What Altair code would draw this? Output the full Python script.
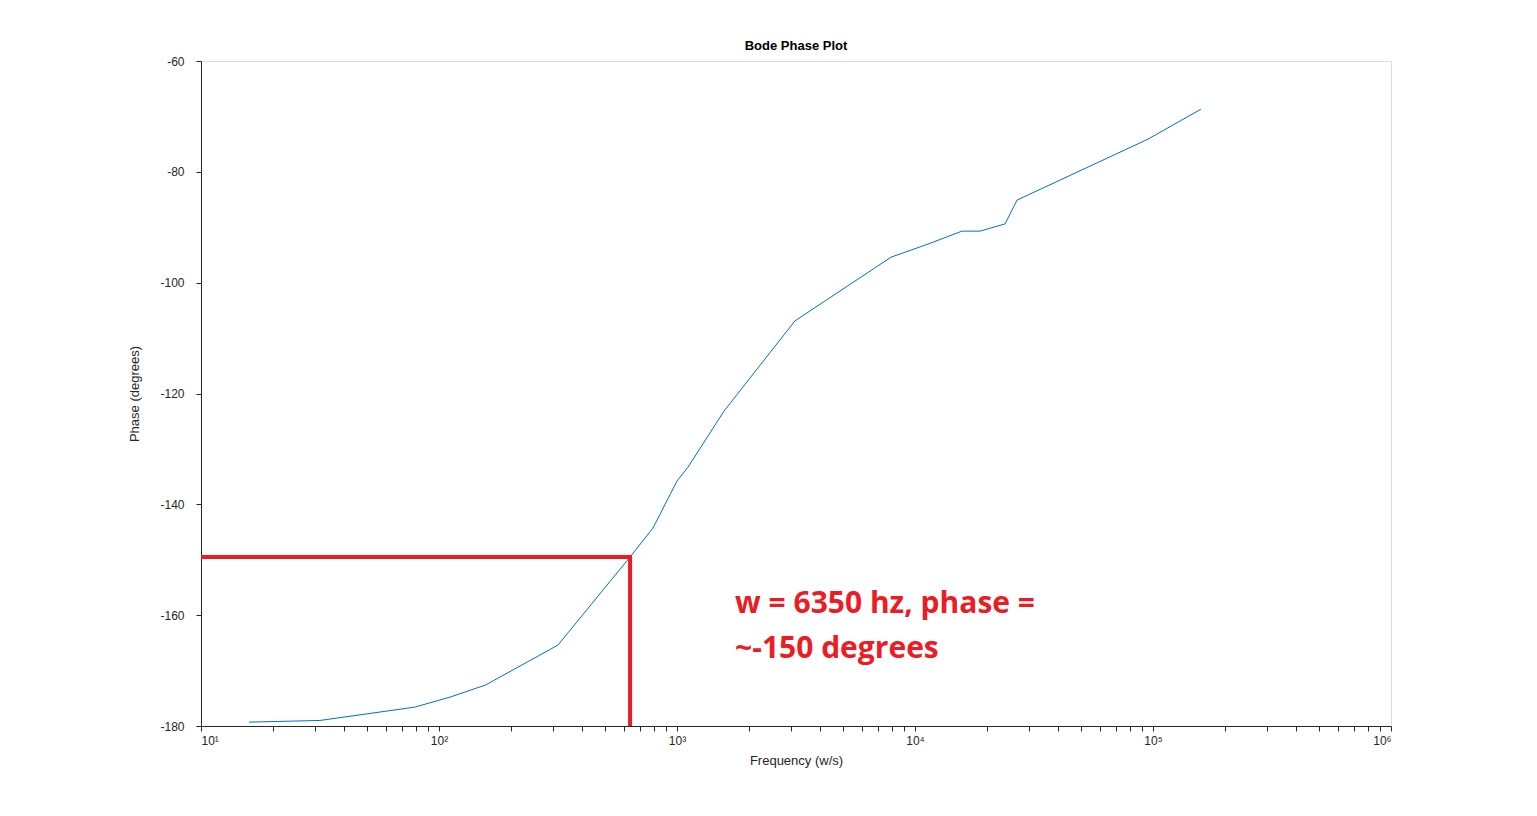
import pandas as pd
import altair as alt

# Bode phase curve
freq = [15.9, 31.6, 79, 111, 157, 316, 635, 792, 1000, 1112, 1574, 3130, 7930,
        11570, 15750, 18750, 23900, 26840, 95300, 159000]
phase = [-179.3, -179.0, -176.6, -174.8, -172.6, -165.4, -149.5, -144.3, -135.8,
         -133.3, -123.2, -106.9, -95.4, -92.9, -90.7, -90.7, -89.4, -85.1, -74.1, -68.7]

# red marker lines
marker_freq = [10, 635, 635]
marker_phase = [-149.5, -149.5, -180]

note_lines = ["w = 6350 hz, phase =", "~-150 degrees"]
note_freq = [1754, 1754]
note_phase = [-159.6, -167.7]

tick_values = [m * 10 ** k for k in range(1, 6) for m in range(1, 10)] + [10 ** 6]

curve = pd.DataFrame({"freq": freq, "phase": phase})
marker = pd.DataFrame({"freq": marker_freq, "phase": marker_phase, "order": [0, 1, 2]})
note = pd.DataFrame({"freq": note_freq, "phase": note_phase, "text": note_lines})

x_scale = alt.Scale(type="log", domain=[10, 1e6], nice=False)
y_scale = alt.Scale(domain=[-180, -60], nice=False)

sup = "{'1':'10¹','2':'10²','3':'10³','4':'10⁴','5':'10⁵','6':'10⁶'}"
x_axis = alt.Axis(
    values=tick_values, title="Frequency (w/s)", grid=False,
    labelExpr=f"abs(log(datum.value)/LN10 - round(log(datum.value)/LN10)) < 0.001 ? {sup}[''+round(log(datum.value)/LN10)] : ''",
    tickSize=5, labelFontSize=12, titleFontSize=13, titleFontWeight="normal",
    labelColor="#262626", titleColor="#262626", domainColor="#262626", tickColor="#262626",
    labelPadding=4, titlePadding=8,
)
y_axis = alt.Axis(
    values=list(range(-180, -59, 20)), title="Phase (degrees)", grid=False,
    labelExpr="replace(''+datum.value, '−', '-')",
    tickSize=5, labelFontSize=12, titleFontSize=13, titleFontWeight="normal",
    labelColor="#262626", titleColor="#262626", domainColor="#262626", tickColor="#262626",
    labelPadding=12, titlePadding=18,
)

line = alt.Chart(curve).mark_line(color="#0072BD", strokeWidth=1).encode(
    x=alt.X("freq:Q", scale=x_scale, axis=x_axis),
    y=alt.Y("phase:Q", scale=y_scale, axis=y_axis),
)

red = alt.Chart(marker).mark_line(color="#ED1C24", strokeWidth=4).encode(
    x=alt.X("freq:Q", scale=x_scale),
    y=alt.Y("phase:Q", scale=y_scale),
    order="order:O",
)

text = alt.Chart(note).mark_text(
    align="left", baseline="alphabetic", color="#ED1C24",
    font="Open Sans", fontSize=30, fontWeight="bold",
).encode(
    x=alt.X("freq:Q", scale=x_scale),
    y=alt.Y("phase:Q", scale=y_scale),
    text="text:N",
)

chart = (line + red + text).properties(
    width=1190, height=665,
    title=alt.TitleParams("Bode Phase Plot", fontSize=13, fontWeight="bold",
                          font="Liberation Sans", offset=2),
    autosize=alt.AutoSizeParams(type="none"),
    padding={"left": 193, "top": 53, "right": 10, "bottom": 80},
).configure_view(
    stroke="#262626", strokeWidth=1
).configure(
    font="Liberation Sans"
)

chart.save("out.html", embed_options={"renderer": "svg", "actions": False})
